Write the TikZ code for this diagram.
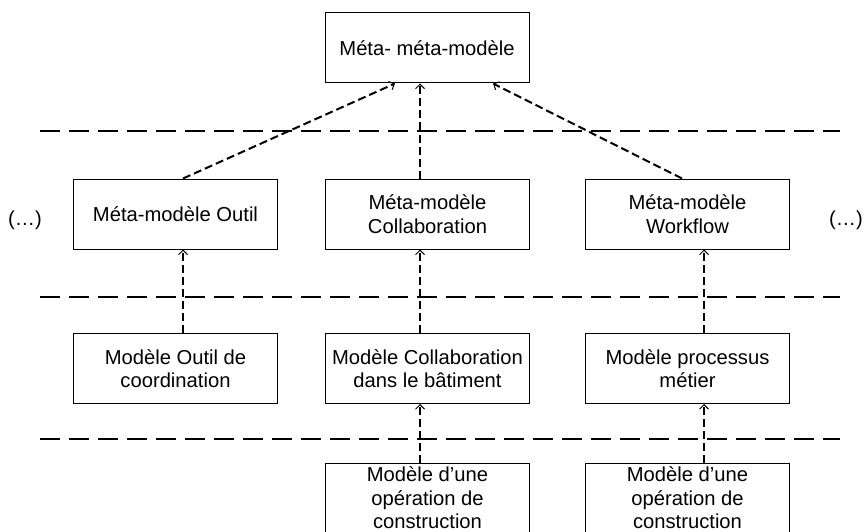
\documentclass[tikz,border=0pt]{standalone}
\usepackage{fontspec}
\setmainfont{Liberation Sans}
\usetikzlibrary{arrows.meta}
\begin{document}
\begin{tikzpicture}[x=1pt,y=-1pt,
  box/.style={draw, line width=1pt, minimum width=204pt, minimum height=70pt, align=center,
    font=\fontsize{20.2}{23.5}\selectfont, inner sep=0pt},
  lbl/.style={font=\fontsize{20.2}{23.5}\selectfont, inner sep=0pt},
  sep/.style={line width=2.2pt, dash pattern=on 20pt off 9pt},
  dep/.style={line width=2pt, dash pattern=on 8pt off 4pt,
    -{Straight Barb[length=4.5pt,width=9pt,line width=1pt]}}]
\useasboundingbox (0,0) rectangle (864,532);
% separators
\coordinate (s1a) at (40,131); \coordinate (s1b) at (840,131);
\coordinate (s2a) at (40,297); \coordinate (s2b) at (840,297);
\coordinate (s3a) at (40,439); \coordinate (s3b) at (840,439);
\draw[sep] (s1a) -- (s1b);
\draw[sep] (s2a) -- (s2b);
\draw[sep] (s3a) -- (s3b);
% nodes
\node[box, fill=white] (top) at (427,48) {Méta- méta-modèle};
\node[box] (mo) at (175.5,214) {Méta-modèle Outil};
\node[box] (mc) at (427.5,214) {Méta-modèle\\Collaboration};
\node[box] (mw) at (687.5,214) {Méta-modèle\\Workflow};
\node[lbl] (l1) at (25,220) {(…)};
\node[lbl] (l2) at (846,220) {(…)};
\node[box] (oc) at (175.5,368.5) {Modèle Outil de\\coordination};
\node[box] (cb) at (427.5,368.5) {Modèle Collaboration\\dans le bâtiment};
\node[box] (pm) at (687.5,368.5) {Modèle processus\\métier};
\begin{scope}
\clip (0,0) rectangle (864,532);
\node[box] (oa) at (427.5,498) {Modèle d’une\\opération de\\construction};
\node[box] (ob) at (687.5,498) {Modèle d’une\\opération de\\construction};
\end{scope}
% arrows
\draw[dep] ([xshift=7.5pt]mo.north) -- ([xshift=-32pt]top.south);
\draw[dep] ([xshift=-7.5pt]mc.north) -- ([xshift=-7pt]top.south);
\draw[dep] ([xshift=-5.5pt]mw.north) -- ([xshift=66pt]top.south);
\draw[dep] ([xshift=7.5pt]oc.north) -- ([xshift=7.5pt]mo.south);
\draw[dep] ([xshift=-7.5pt]cb.north) -- ([xshift=-7.5pt]mc.south);
\draw[dep] ([xshift=16.5pt]pm.north) -- ([xshift=16.5pt]mw.south);
\draw[dep] ([xshift=-7.5pt]oa.north) -- ([xshift=-7.5pt]cb.south);
\draw[dep] ([xshift=16.5pt]ob.north) -- ([xshift=16.5pt]pm.south);
\end{tikzpicture}
\end{document}
